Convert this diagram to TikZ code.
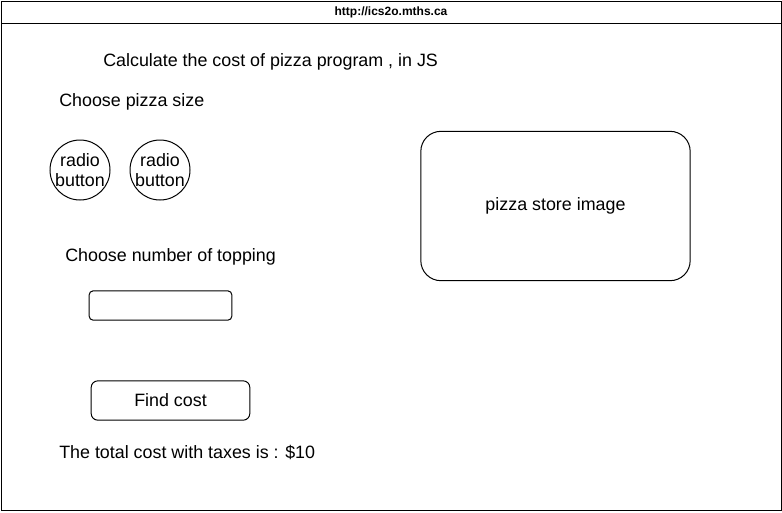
\documentclass[tikz,border=0pt]{standalone}
\usepackage{fontspec}
\setmainfont{Liberation Sans}
\usepackage{tikz}
\usetikzlibrary{positioning,shapes}
\tikzset{
  label/.style  = {font=\fontsize{13.4}{15}\selectfont, inner sep=0pt},
  radio/.style  = {circle, draw, line width=0.75pt, minimum size=45pt, inner sep=0pt, align=center,
                   font=\fontsize{13.4}{15.5}\selectfont},
  field/.style  = {rectangle, draw, line width=0.75pt, rounded corners=3pt},
  btn/.style    = {field, rounded corners=5pt, font=\fontsize{13.4}{15}\selectfont},
  imgbox/.style = {rectangle, draw, line width=0.75pt, rounded corners=15pt, font=\fontsize{13.4}{15}\selectfont}
}
\begin{document}
\begin{tikzpicture}[x=0.75pt, y=-0.75pt]
    \useasboundingbox (0,0) rectangle (782,512);
    % browser frame
    \draw[line width=0.75pt] (1,1) rectangle (781,510);
    \draw[line width=0.75pt] (1,23) -- (781,23);
    \node[font=\fontsize{9}{10}\selectfont\bfseries] (url) at (391,12) {http://ics2o.mths.ca};
    % page
    \node[label, anchor=west] (title) at (103,62) {Calculate the cost of pizza program , in JS};
    \node[label, anchor=west] (size) at (59,102) {Choose pizza size};
    \node[radio] (r1) at (80,170) {radio\\button};
    \node[radio] (r2) at (160,170) {radio\\button};
    \node[label, anchor=west] (top) at (65,257) {Choose number of topping};
    \node[field, minimum width=107pt, minimum height=22pt] (box) at (160.5,305.5) {};
    \node[btn, minimum width=119pt, minimum height=29.5pt] (cost) at (170.5,400.5) {Find cost};
    \node[label, anchor=west] (total) at (59,452) {The total cost with taxes is : \$10};
    \node[imgbox, minimum width=202pt, minimum height=112pt] (img) at (555.5,206) {pizza store image};
  \end{tikzpicture}
\end{document}
